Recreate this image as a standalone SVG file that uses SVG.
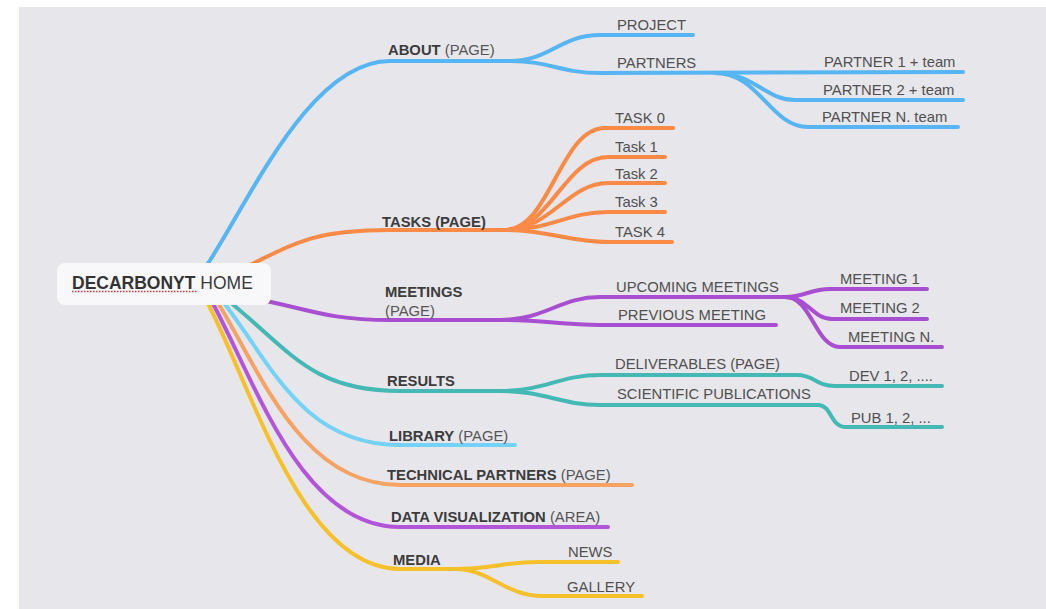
<svg xmlns="http://www.w3.org/2000/svg" width="1046" height="609" viewBox="0 0 1046 609">
<style>
.c{fill:none;stroke-width:4;stroke-linecap:round;stroke-linejoin:round}
.blue{stroke:#58b5f3}.orange{stroke:#fa8a45}.purple{stroke:#a74fd0}.teal{stroke:#43b8b4}
.lblue{stroke:#74d2f7}.lorange{stroke:#f6a262}.vpurple{stroke:#b255d8}.yellow{stroke:#f6c02b}
text{font-family:"Liberation Sans",Arial,sans-serif;font-size:14.8px;fill:#505050}
.b{font-weight:bold;fill:#3c3c3c}
.r{fill:#555}
</style>
<rect width="1046" height="609" fill="#ffffff"/>
<rect x="19" y="7" width="1027" height="602" fill="#e7e6eb"/>
<g id="connectors">
  <path class="c blue" d="M207 265 C250 200 310 61 390 61 L512 61"/>
  <path class="c blue" d="M510 61 C550 61 560 35 600 35 L693 35"/>
  <path class="c blue" d="M510 61 C550 61 560 73 600 73 L963 72"/>
  <path class="c blue" d="M715 73 C755 73 765 100 795 100 L963 100"/>
  <path class="c blue" d="M715 73 C760 73 770 127 808 127 L958 127"/>
  <path class="c orange" d="M250 265 C300 240 320 230 390 230 L510 230"/>
  <path class="c orange" d="M505 230 C550 230 560 128 605 128 L673 128"/>
  <path class="c orange" d="M505 230 C550 230 565 157 608 157 L665 157"/>
  <path class="c orange" d="M505 230 C550 230 568 183 608 183 L665 183"/>
  <path class="c orange" d="M505 230 C550 230 568 212 608 212 L665 212"/>
  <path class="c orange" d="M505 230 C550 230 568 242 608 242 L672 242"/>
  <path class="c purple" d="M262 300 C310 310 330 320 390 320 L505 320"/>
  <path class="c purple" d="M500 320 C545 320 560 297 600 297 L792 297"/>
  <path class="c purple" d="M500 320 C545 320 560 325 600 325 L776 325"/>
  <path class="c purple" d="M785 297 C805 297 810 289 830 289 L927 289"/>
  <path class="c purple" d="M785 297 C808 297 812 319 832 319 L927 319"/>
  <path class="c purple" d="M785 297 C812 297 815 347 840 347 L942 347"/>
  <path class="c teal" d="M225 298 C290 350 310 391 400 391 L505 391"/>
  <path class="c teal" d="M500 391 C545 391 560 375 600 375 L797 375 C815 375 815 386 835 386 L942 386"/>
  <path class="c teal" d="M500 391 C545 391 560 405 600 405 L818 405 C832 405 830 427 846 427 L942 427"/>
  <path class="c lblue" d="M220 298 C270 360 300 445 400 445 L515 445"/>
  <path class="c lorange" d="M215 298 C260 370 300 485 400 485 L632 485"/>
  <path class="c vpurple" d="M210 298 C255 380 300 527 400 527 L608 527"/>
  <path class="c yellow" d="M205 298 C250 380 300 569 400 569 L462 569"/>
  <path class="c yellow" d="M455 569 C490 569 505 562 538 562 L618 562"/>
  <path class="c yellow" d="M455 569 C490 569 505 596 542 596 L642 596"/>
</g>
<g id="root">
  <rect x="57" y="263" width="214" height="42" rx="8" fill="#f8f8fa"/>
  <text x="72" y="289" style="font-size:17.5px"><tspan class="b" style="fill:#333">DECARBONYT</tspan><tspan style="fill:#3a3a3a"> HOME</tspan></text>
  <line x1="72" y1="291.5" x2="197" y2="291.5" stroke="#e3343c" stroke-width="1.3" stroke-dasharray="1.5 1.5"/>
</g>
<g id="about"><text x="388" y="55"><tspan class="b">ABOUT</tspan><tspan class="r"> (PAGE)</tspan></text></g>
<g id="project"><text x="617" y="30">PROJECT</text></g>
<g id="partners"><text x="617" y="68">PARTNERS</text></g>
<g id="partner1"><text x="824" y="67">PARTNER 1 + team</text></g>
<g id="partner2"><text x="823" y="95">PARTNER 2 + team</text></g>
<g id="partnerN"><text x="822" y="122">PARTNER N. team</text></g>
<g id="tasks"><text x="382" y="227" class="b">TASKS (PAGE)</text></g>
<g id="task0"><text x="615" y="123">TASK 0</text></g>
<g id="task1"><text x="615" y="152">Task 1</text></g>
<g id="task2"><text x="615" y="179">Task 2</text></g>
<g id="task3"><text x="615" y="207">Task 3</text></g>
<g id="task4"><text x="615" y="237">TASK 4</text></g>
<g id="meetings"><text x="385" y="297" class="b">MEETINGS</text><text x="385" y="316" class="r">(PAGE)</text></g>
<g id="upcoming"><text x="616" y="292">UPCOMING MEETINGS</text></g>
<g id="previous"><text x="618" y="320">PREVIOUS MEETING</text></g>
<g id="meeting1"><text x="840" y="284">MEETING 1</text></g>
<g id="meeting2"><text x="840" y="313">MEETING 2</text></g>
<g id="meetingN"><text x="848" y="342">MEETING N.</text></g>
<g id="results"><text x="387" y="386" class="b">RESULTS</text></g>
<g id="deliverables"><text x="615" y="369">DELIVERABLES (PAGE)</text></g>
<g id="publications"><text x="617" y="399">SCIENTIFIC PUBLICATIONS</text></g>
<g id="dev"><text x="849" y="381">DEV 1, 2, ....</text></g>
<g id="pub"><text x="851" y="423">PUB 1, 2, ...</text></g>
<g id="library"><text x="389" y="441"><tspan class="b">LIBRARY</tspan><tspan class="r"> (PAGE)</tspan></text></g>
<g id="technical"><text x="387" y="480"><tspan class="b">TECHNICAL PARTNERS</tspan><tspan class="r"> (PAGE)</tspan></text></g>
<g id="datavis"><text x="391" y="522"><tspan class="b">DATA VISUALIZATION</tspan><tspan class="r"> (AREA)</tspan></text></g>
<g id="media"><text x="393" y="565" class="b">MEDIA</text></g>
<g id="news"><text x="568" y="557">NEWS</text></g>
<g id="gallery"><text x="567" y="592">GALLERY</text></g>
</svg>
